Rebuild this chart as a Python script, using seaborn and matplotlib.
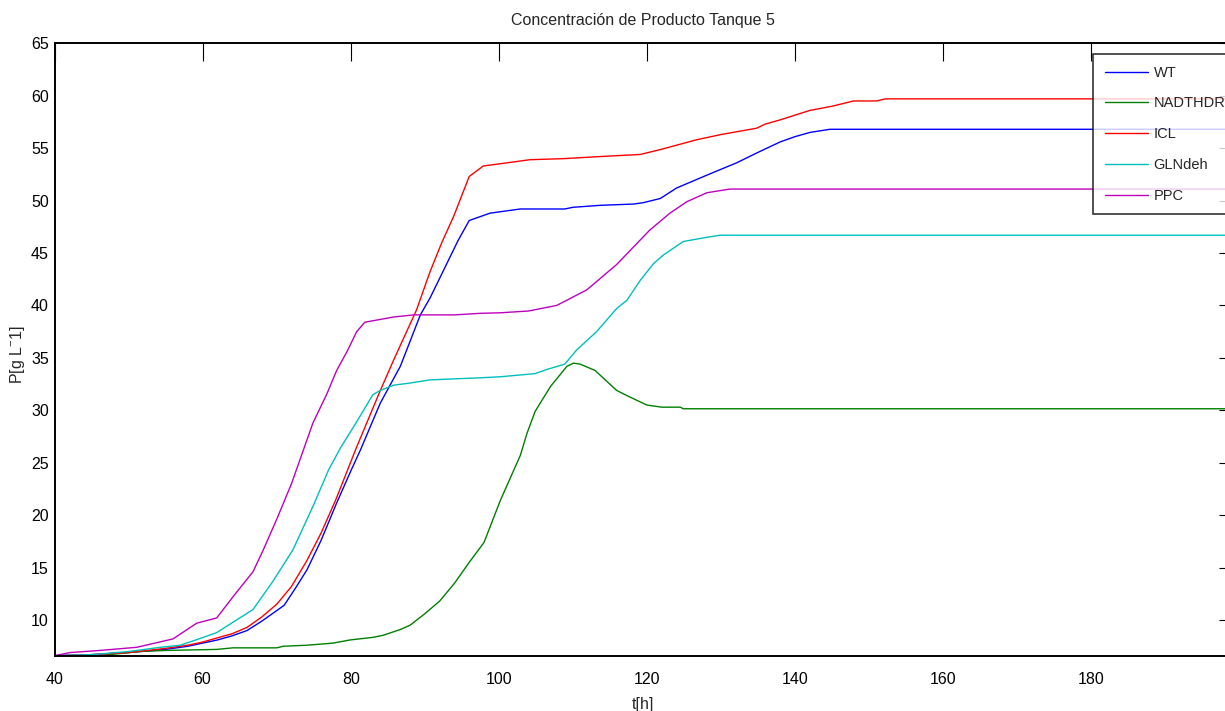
import matplotlib
matplotlib.use("Agg")
import matplotlib.pyplot as plt
import numpy as np
import pandas as pd
import seaborn as sns

# Product concentration in tank 5 for each strain
strains = ["WT", "NADTHDR", "ICL", "GLNdeh", "PPC"]

t_wt = [40, 45, 50, 55, 58, 60, 62, 64, 66, 68, 71, 72.5, 74.1, 76, 78, 80, 81.3, 84,
        86.7, 89.4, 90.7, 92.5, 94.5, 96, 98.8, 102.9, 108.9, 110, 113.7, 118.2, 119.5,
        121.8, 124, 128, 132.1, 135, 138, 140, 142, 144.7, 150, 199]
p_wt = [6.6, 6.7, 6.9, 7.2, 7.5, 7.8, 8.1, 8.5, 9.0, 9.9, 11.4, 13.0, 14.8, 17.6, 21.0,
        24.2, 26.2, 30.7, 34.2, 39.1, 40.7, 43.3, 46.2, 48.1, 48.8, 49.2, 49.2, 49.36,
        49.55, 49.67, 49.8, 50.2, 51.2, 52.4, 53.6, 54.6, 55.6, 56.1, 56.5, 56.8, 56.8, 56.8]

t_nad = [40, 46, 51.5, 55, 61.9, 64.1, 70, 70.9, 74.1, 77.6, 79.9, 83, 84.4, 86.7, 88,
         90, 92, 94, 96, 98, 100.2, 102.9, 103.8, 104.9, 107, 109.2, 110.1, 111, 113,
         115.9, 117.3, 120, 122, 124.5, 124.9, 199]
p_nad = [6.6, 6.6, 7.0, 7.1, 7.2, 7.35, 7.35, 7.5, 7.6, 7.8, 8.1, 8.35, 8.55, 9.1, 9.5,
         10.6, 11.8, 13.5, 15.5, 17.4, 21.4, 25.7, 27.8, 29.9, 32.3, 34.2, 34.5, 34.4,
         33.8, 31.9, 31.4, 30.5, 30.3, 30.3, 30.15, 30.15]

t_icl = [40, 45, 50, 55, 58, 60, 62, 64, 66, 68, 70, 72, 74.1, 76, 78, 80.8, 84, 85.8,
         88.9, 90.7, 92.3, 93.9, 96, 97.9, 101.1, 104.2, 108.7, 113.7, 119.1, 122, 126.7,
         130, 134.8, 136, 138, 142, 145, 147.9, 151, 152.2, 199]
p_icl = [6.6, 6.7, 6.9, 7.3, 7.6, 7.9, 8.3, 8.7, 9.3, 10.3, 11.5, 13.2, 15.7, 18.3, 21.5,
         26.5, 31.9, 34.8, 39.6, 43.2, 46.0, 48.5, 52.3, 53.3, 53.6, 53.9, 54.0, 54.2,
         54.4, 54.9, 55.8, 56.3, 56.9, 57.3, 57.7, 58.6, 59.0, 59.5, 59.5, 59.7, 59.7]

t_gln = [40, 45, 50, 54.3, 57, 60.1, 61.9, 63.9, 66.8, 69.5, 72.2, 75, 77, 78.6, 80.8,
         83, 84, 85.8, 88, 90.7, 94, 97.5, 100.2, 104.9, 106.5, 108.9, 110.5, 113.2,
         115.9, 117.3, 119.1, 120.9, 122.2, 124.9, 128.1, 129.9, 199]
p_gln = [6.6, 6.7, 7.0, 7.4, 7.6, 8.35, 8.8, 9.7, 11.0, 13.7, 16.7, 21.0, 24.3, 26.4,
         28.9, 31.5, 31.9, 32.4, 32.6, 32.9, 33.0, 33.1, 33.2, 33.5, 33.9, 34.4, 35.75,
         37.5, 39.7, 40.5, 42.4, 44.0, 44.8, 46.1, 46.5, 46.7, 46.7]

t_ppc = [40, 42.1, 46.1, 51.1, 56, 59.2, 61.9, 64.3, 66.8, 68.2, 70, 72, 73.6, 74.9,
         76.8, 78.1, 79.5, 80.8, 81.9, 85.8, 88.5, 94, 97.5, 100.2, 104, 107.8, 109.2,
         111.9, 115.9, 120.4, 123.1, 125.4, 128.1, 131.2, 199]
p_ppc = [6.6, 6.9, 7.1, 7.4, 8.2, 9.7, 10.2, 12.4, 14.6, 16.7, 19.6, 23.0, 26.2, 28.8,
         31.6, 33.8, 35.6, 37.5, 38.4, 38.9, 39.1, 39.1, 39.25, 39.3, 39.47, 40.0, 40.5,
         41.5, 43.9, 47.2, 48.8, 49.9, 50.75, 51.1, 51.1]

x_ticks = [40, 60, 80, 100, 120, 140, 160, 180]
y_ticks = [10, 15, 20, 25, 30, 35, 40, 45, 50, 55, 60, 65]

colors = {"WT": (0, 0, 1), "NADTHDR": (0, 0.5, 0), "ICL": (1, 0, 0),
          "GLNdeh": (0, 0.75, 0.75), "PPC": (0.75, 0, 0.75)}

frames = []
for name, t, p in zip(strains, [t_wt, t_nad, t_icl, t_gln, t_ppc],
                      [p_wt, p_nad, p_icl, p_gln, p_ppc]):
    frames.append(pd.DataFrame({"t": t, "P": p, "cepa": name}))
df = pd.concat(frames, ignore_index=True)

sns.set_style("white")
plt.rcParams["font.family"] = ["Liberation Sans", "DejaVu Sans"]
plt.rcParams["mathtext.fontset"] = "custom"
plt.rcParams["mathtext.rm"] = "Liberation Sans"

W, H = 1225, 711
fig = plt.figure(figsize=(W / 100, H / 100), dpi=100)
left, right, top, bottom = 54.5, 1232.0, 43.3, 655.7
ax = fig.add_axes([left / W, 1 - bottom / H, (right - left) / W, (bottom - top) / H])

sns.lineplot(data=df, x="t", y="P", hue="cepa", hue_order=strains, palette=colors,
             estimator=None, sort=False, linewidth=1.0, ax=ax, legend=True)

ax.set_xlim(40, 199)
ax.set_ylim(6.6, 65)
ax.set_xticks(x_ticks)
ax.set_yticks(y_ticks)
ax.tick_params(axis="both", direction="in", top=True, right=True, labelsize=11.5,
               colors="black", width=0.8)
ax.tick_params(axis="x", length=13, pad=12)
ax.tick_params(axis="y", length=9.5, pad=4)
for s in ax.spines.values():
    s.set_color("black")
    s.set_linewidth(1.4)

ax.set_title("Concentración de Producto Tanque 5", fontsize=11.5, pad=13)
ax.set_xlabel("t[h]", fontsize=11.5)
ax.set_ylabel(r"P[g L$^{-}$1]", fontsize=11.5)
ax.xaxis.set_label_coords(0.5, -(697 - bottom) / (bottom - top))
ax.yaxis.set_label_coords((27 - left) / (right - left), (bottom - 355) / (bottom - top))

handles, labels = ax.get_legend_handles_labels()
leg = ax.legend(handles, labels, loc="upper left",
                bbox_to_anchor=(1093 / W, 1 - 54 / H), bbox_transform=fig.transFigure,
                fontsize=10.5, frameon=True, fancybox=False, borderaxespad=0,
                handlelength=3.0, handletextpad=0.35, labelspacing=1.15, borderpad=0.8)
leg.get_frame().set_edgecolor("black")
leg.get_frame().set_linewidth(1.2)
for line in leg.get_lines():
    line.set_linewidth(1.0)

fig.savefig("out.png", dpi=100)
